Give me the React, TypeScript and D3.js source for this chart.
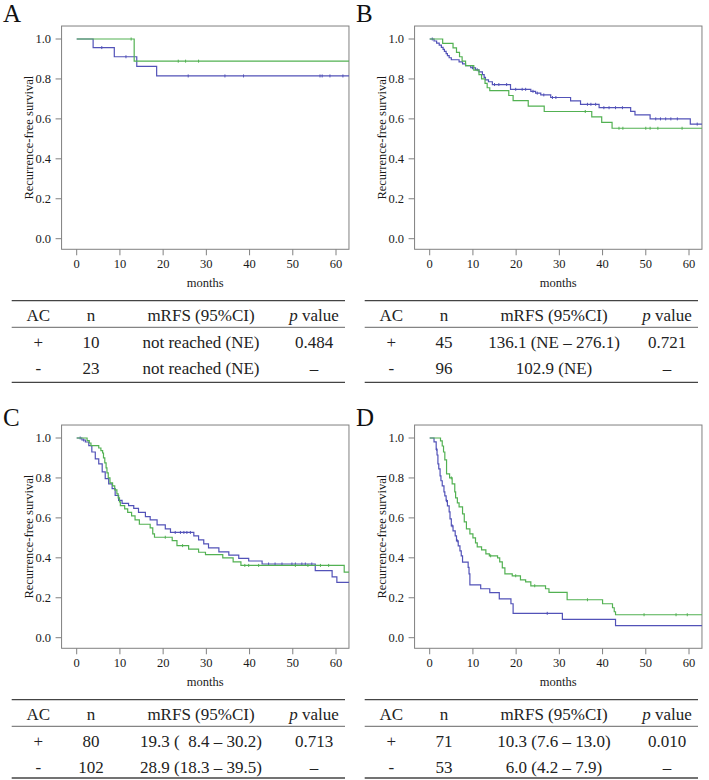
import React from "react";
import * as d3 from "d3";

type Step = [number, number];

// Kaplan–Meier steps as [month, survival]; AC+ drawn green, AC- drawn blue
const aPosSteps: Step[] = [[13.3, 0.889]];
const aPosCensor = [12.6, 23.5, 25.2, 28.2];
const aNegSteps: Step[] = [[3.8, 0.957], [8.7, 0.911], [13.9, 0.863], [18.5, 0.815]];
const aNegCensor = [5.8, 11.4, 25.8, 34.3, 38.6, 56.3, 56.8, 58.6, 61.6];

const bPosSteps: Step[] = [
  [3.0, 0.978], [5.4, 0.956], [6.2, 0.933], [6.9, 0.911], [7.5, 0.889], [8.3, 0.867],
  [10.2, 0.844], [11.4, 0.822], [12.0, 0.8], [12.8, 0.778], [13.3, 0.756], [13.9, 0.741],
  [18.3, 0.717], [19.3, 0.691], [22.8, 0.664], [26.5, 0.637], [37.5, 0.61], [39.8, 0.583],
  [42.2, 0.553],
];
const bPosCensor = [36.0, 43.8, 44.7, 50.0, 51.0, 52.8, 58.4];
const bNegSteps: Step[] = [
  [1.0, 0.99], [1.6, 0.979], [2.2, 0.969], [2.7, 0.958], [3.1, 0.948], [3.4, 0.938],
  [3.8, 0.927], [4.1, 0.917], [4.5, 0.906], [5.0, 0.896], [6.8, 0.885], [7.6, 0.875],
  [8.3, 0.866], [9.5, 0.856], [10.6, 0.846], [11.4, 0.835], [12.2, 0.822], [12.6, 0.808],
  [12.9, 0.795], [13.6, 0.786], [14.5, 0.772], [18.7, 0.748], [23.4, 0.738], [24.5, 0.729],
  [25.7, 0.72], [28.0, 0.707], [32.6, 0.69], [34.9, 0.673], [39.2, 0.656], [46.5, 0.638],
  [47.5, 0.62], [51.0, 0.6], [60.3, 0.574],
];
const bNegCensor = [
  0.6, 9.9, 11.0, 15.0, 16.0, 17.8, 19.9, 21.4, 22.2, 23.9, 24.9, 26.4, 28.4, 29.2, 36.5,
  37.3, 38.4, 40.3, 41.5, 43.0, 44.6, 52.3, 53.4, 54.6, 55.8, 57.3, 61.9,
];

const cPosSteps: Step[] = [
  [2.4, 0.987], [2.9, 0.975], [3.3, 0.962], [5.1, 0.95], [5.6, 0.937], [6.0, 0.925],
  [6.2, 0.9], [6.5, 0.875], [6.8, 0.85], [7.0, 0.825], [7.3, 0.8], [7.7, 0.775],
  [8.3, 0.76], [8.8, 0.74], [9.3, 0.72], [9.6, 0.7], [9.9, 0.68], [10.1, 0.661],
  [11.1, 0.645], [11.8, 0.628], [12.7, 0.61], [13.5, 0.59], [14.5, 0.568], [17.0, 0.55],
  [17.6, 0.52], [18.0, 0.503], [22.1, 0.486], [23.2, 0.461], [25.9, 0.444], [28.2, 0.428],
  [29.8, 0.416], [33.8, 0.4], [36.2, 0.38], [38.0, 0.362], [61.9, 0.328],
];
const cPosCensor = [20.5, 24.5, 38.9, 39.8, 42.1, 50.6, 53.5, 56.4, 58.3];
const cNegSteps: Step[] = [
  [1.2, 0.99], [2.0, 0.98], [2.8, 0.962], [3.5, 0.93], [4.3, 0.895], [5.1, 0.87],
  [5.9, 0.83], [6.6, 0.797], [7.4, 0.77], [8.2, 0.746], [8.9, 0.712], [9.7, 0.688],
  [10.5, 0.673], [12.0, 0.661], [13.2, 0.648], [14.3, 0.628], [15.9, 0.606], [17.0, 0.59],
  [18.6, 0.565], [20.5, 0.545], [21.7, 0.527], [27.1, 0.51], [28.2, 0.49], [29.4, 0.47],
  [30.5, 0.45], [32.9, 0.43], [35.2, 0.413], [37.5, 0.397], [39.8, 0.384], [42.9, 0.369],
  [55.2, 0.336], [59.1, 0.305], [60.2, 0.277],
];
const cNegCensor = [0.8, 1.6, 22.8, 24.0, 24.8, 25.5, 26.3, 44.4, 45.9, 47.5, 49.8, 50.6, 52.1, 52.9, 54.4];

const dPosSteps: Step[] = [
  [2.5, 0.986], [2.9, 0.96], [3.2, 0.93], [3.5, 0.89], [3.9, 0.82], [4.6, 0.8], [5.2, 0.77],
  [5.8, 0.73], [6.0, 0.7], [6.4, 0.675], [6.8, 0.655], [7.6, 0.62], [8.0, 0.58], [8.5, 0.545],
  [9.3, 0.52], [10.0, 0.5], [10.6, 0.475], [11.0, 0.455], [12.0, 0.44], [13.0, 0.42],
  [13.8, 0.41], [15.7, 0.4], [16.2, 0.38], [16.8, 0.35], [17.4, 0.32], [19.1, 0.31],
  [21.0, 0.29], [22.2, 0.28], [23.4, 0.26], [26.8, 0.245], [27.6, 0.227], [31.8, 0.19],
  [40.0, 0.17], [42.3, 0.15], [42.7, 0.13], [43.0, 0.115],
];
const dPosCensor = [5.0, 14.1, 19.9, 24.3, 36.5, 49.6, 57.0, 59.6];
const dNegSteps: Step[] = [
  [1.0, 0.981], [1.5, 0.943], [1.7, 0.915], [1.9, 0.87], [2.1, 0.845], [2.4, 0.81],
  [2.6, 0.786], [2.9, 0.76], [3.3, 0.73], [3.5, 0.71], [3.8, 0.686], [4.1, 0.66],
  [4.5, 0.63], [4.7, 0.595], [5.0, 0.56], [5.4, 0.535], [5.9, 0.51], [6.2, 0.485],
  [6.6, 0.46], [7.0, 0.435], [7.3, 0.41], [7.6, 0.378], [8.9, 0.352], [9.1, 0.32],
  [9.3, 0.265], [11.8, 0.245], [13.9, 0.226], [16.1, 0.194], [18.8, 0.17], [19.3, 0.122],
  [30.7, 0.092], [43.0, 0.06],
];
const dNegCensor = [1.6, 3.9, 5.2, 6.4, 27.2];

// summary tables under each plot
const tableHeader = ["AC", "n", "mRFS (95%CI)", "p value"];
const tableA = [["+", "10", "not reached (NE)", "0.484"], ["-", "23", "not reached (NE)", "\u2013"]];
const tableB = [["+", "45", "136.1 (NE \u2013 276.1)", "0.721"], ["-", "96", "102.9 (NE)", "\u2013"]];
const tableC = [["+", "80", "19.3 (\u00a0\u00a08.4 \u2013 30.2)", "0.713"], ["-", "102", "28.9 (18.3 \u2013 39.5)", "\u2013"]];
const tableD = [["+", "71", "10.3 (7.6 \u2013 13.0)", "0.010"], ["-", "53", "6.0 (4.2 \u2013 7.9)", "\u2013"]];

const xTicks = [0, 10, 20, 30, 40, 50, 60];
const yTicks = [0, 0.2, 0.4, 0.6, 0.8, 1.0];

const GREEN = "#52b152";
const BLUE = "#5252b8";
const FONT = '"Liberation Serif", "Times New Roman", Times, serif';

const panels = [
  { label: "A", col: 0, row: 0, pos: aPosSteps, posC: aPosCensor, neg: aNegSteps, negC: aNegCensor, table: tableA },
  { label: "B", col: 1, row: 0, pos: bPosSteps, posC: bPosCensor, neg: bNegSteps, negC: bNegCensor, table: tableB },
  { label: "C", col: 0, row: 1, pos: cPosSteps, posC: cPosCensor, neg: cNegSteps, negC: cNegCensor, table: tableC },
  { label: "D", col: 1, row: 1, pos: dPosSteps, posC: dPosCensor, neg: dNegSteps, negC: dNegCensor, table: tableD },
];

const COL_DX = [0, 353];
const ROW_DY = [0, 399];
const LABEL_Y = [22, 426];
const TABLE_BOTTOM = [382.3, 778];
const COLS_X = [38.3, 91, 201, 314];

// frame extent in data units
const X_MIN = -3.5, X_MAX = 63;
const Y_MIN = -0.053, Y_MAX = 1.065;

const survAt = (steps: Step[], t: number) => {
  let s = 1;
  for (const [m, v] of steps) {
    if (m <= t) s = v;
    else break;
  }
  return s;
};

const Panel = ({ p }: { p: (typeof panels)[number] }) => {
  const dx = COL_DX[p.col];
  const dy = ROW_DY[p.row];
  const x = d3.scaleLinear().domain([0, 60]).range([76.7 + dx, 336 + dx]);
  const y = d3.scaleLinear().domain([0, 1]).range([238.7 + dy, 39 + dy]);
  const fx0 = x(X_MIN), fx1 = x(X_MAX), fy0 = y(Y_MAX), fy1 = y(Y_MIN);
  const line = d3
    .line<Step>()
    .x((d) => x(d[0]))
    .y((d) => y(d[1]))
    .curve(d3.curveStepAfter);
  const clipId = `clip-${p.label}`;

  const curve = (steps: Step[], censor: number[], color: string) => {
    const pts: Step[] = [[0, 1], ...steps, [X_MAX + 1, steps[steps.length - 1][1]]];
    return (
      <g clipPath={`url(#${clipId})`}>
        <path d={line(pts) ?? ""} fill="none" stroke={color} strokeWidth={1.2} />
        {censor.map((t, i) => (
          <line
            key={i}
            x1={x(t)}
            x2={x(t)}
            y1={y(survAt(steps, t)) - 1.5}
            y2={y(survAt(steps, t)) + 1.5}
            stroke={color}
            strokeWidth={1}
          />
        ))}
      </g>
    );
  };

  const tTop = 300.7 + dy;
  const tHead = 327.3 + dy;
  const tBottom = TABLE_BOTTOM[p.row];
  const tx0 = 11.7 + dx, tx1 = 345 + dx;
  const rowY = [tTop + 20.3, tTop + 46.8, tTop + 73.3];

  return (
    <g>
      <defs>
        <clipPath id={clipId}>
          <rect x={fx0} y={fy0} width={fx1 - fx0} height={fy1 - fy0} />
        </clipPath>
      </defs>
      <text x={3 + dx} y={LABEL_Y[p.row]} fontSize={25} fill="#111">
        {p.label}
      </text>
      <rect x={fx0} y={fy0} width={fx1 - fx0} height={fy1 - fy0} fill="none" stroke="#808080" strokeWidth={1} />
      {yTicks.map((t) => (
        <g key={t}>
          <line x1={fx0 - 6} x2={fx0} y1={y(t)} y2={y(t)} stroke="#808080" />
          <text x={fx0 - 10.5} y={y(t) + 4.3} textAnchor="end" fontSize={12.5} fill="#1a1a1a">
            {d3.format(".1f")(t)}
          </text>
        </g>
      ))}
      {xTicks.map((t) => (
        <g key={t}>
          <line x1={x(t)} x2={x(t)} y1={fy1} y2={fy1 + 6} stroke="#808080" />
          <text x={x(t)} y={fy1 + 19} textAnchor="middle" fontSize={12.5} fill="#1a1a1a">
            {t}
          </text>
        </g>
      ))}
      <text x={(fx0 + fx1) / 2} y={286.7 + dy} textAnchor="middle" fontSize={12.5} fill="#1a1a1a">
        months
      </text>
      <text
        transform={`translate(${33 + dx},${(fy0 + fy1) / 2}) rotate(-90)`}
        textAnchor="middle"
        fontSize={12.5}
        fill="#1a1a1a"
      >
        Recurrence-free survival
      </text>
      {curve(p.neg, p.negC, BLUE)}
      {curve(p.pos, p.posC, GREEN)}

      <line x1={tx0} x2={tx1} y1={tTop} y2={tTop} stroke="#444" strokeWidth={1.3} />
      <line x1={tx0} x2={tx1} y1={tHead} y2={tHead} stroke="#666" strokeWidth={1} />
      <line x1={tx0} x2={tx1} y1={tBottom} y2={tBottom} stroke="#444" strokeWidth={1.3} />
      <g fontSize={17} fill="#222" textAnchor="middle" style={{ whiteSpace: "pre" }}>
        {tableHeader.map((h, i) => (
          <text key={h} x={COLS_X[i] + dx} y={rowY[0]}>
            {h === "p value" ? (
              <>
                <tspan fontStyle="italic">p</tspan> value
              </>
            ) : (
              h
            )}
          </text>
        ))}
        {p.table.map((r, ri) =>
          r.map((c, ci) => (
            <text key={`${ri}-${ci}`} x={COLS_X[ci] + dx} y={rowY[ri + 1]}>
              {c}
            </text>
          ))
        )}
      </g>
    </g>
  );
};

export default function App() {
  return (
    <svg
      width={709}
      height={780}
      style={{ position: "absolute", left: 0, top: 0, background: "#fff", fontFamily: FONT }}
    >
      {panels.map((p) => (
        <Panel key={p.label} p={p} />
      ))}
    </svg>
  );
}
